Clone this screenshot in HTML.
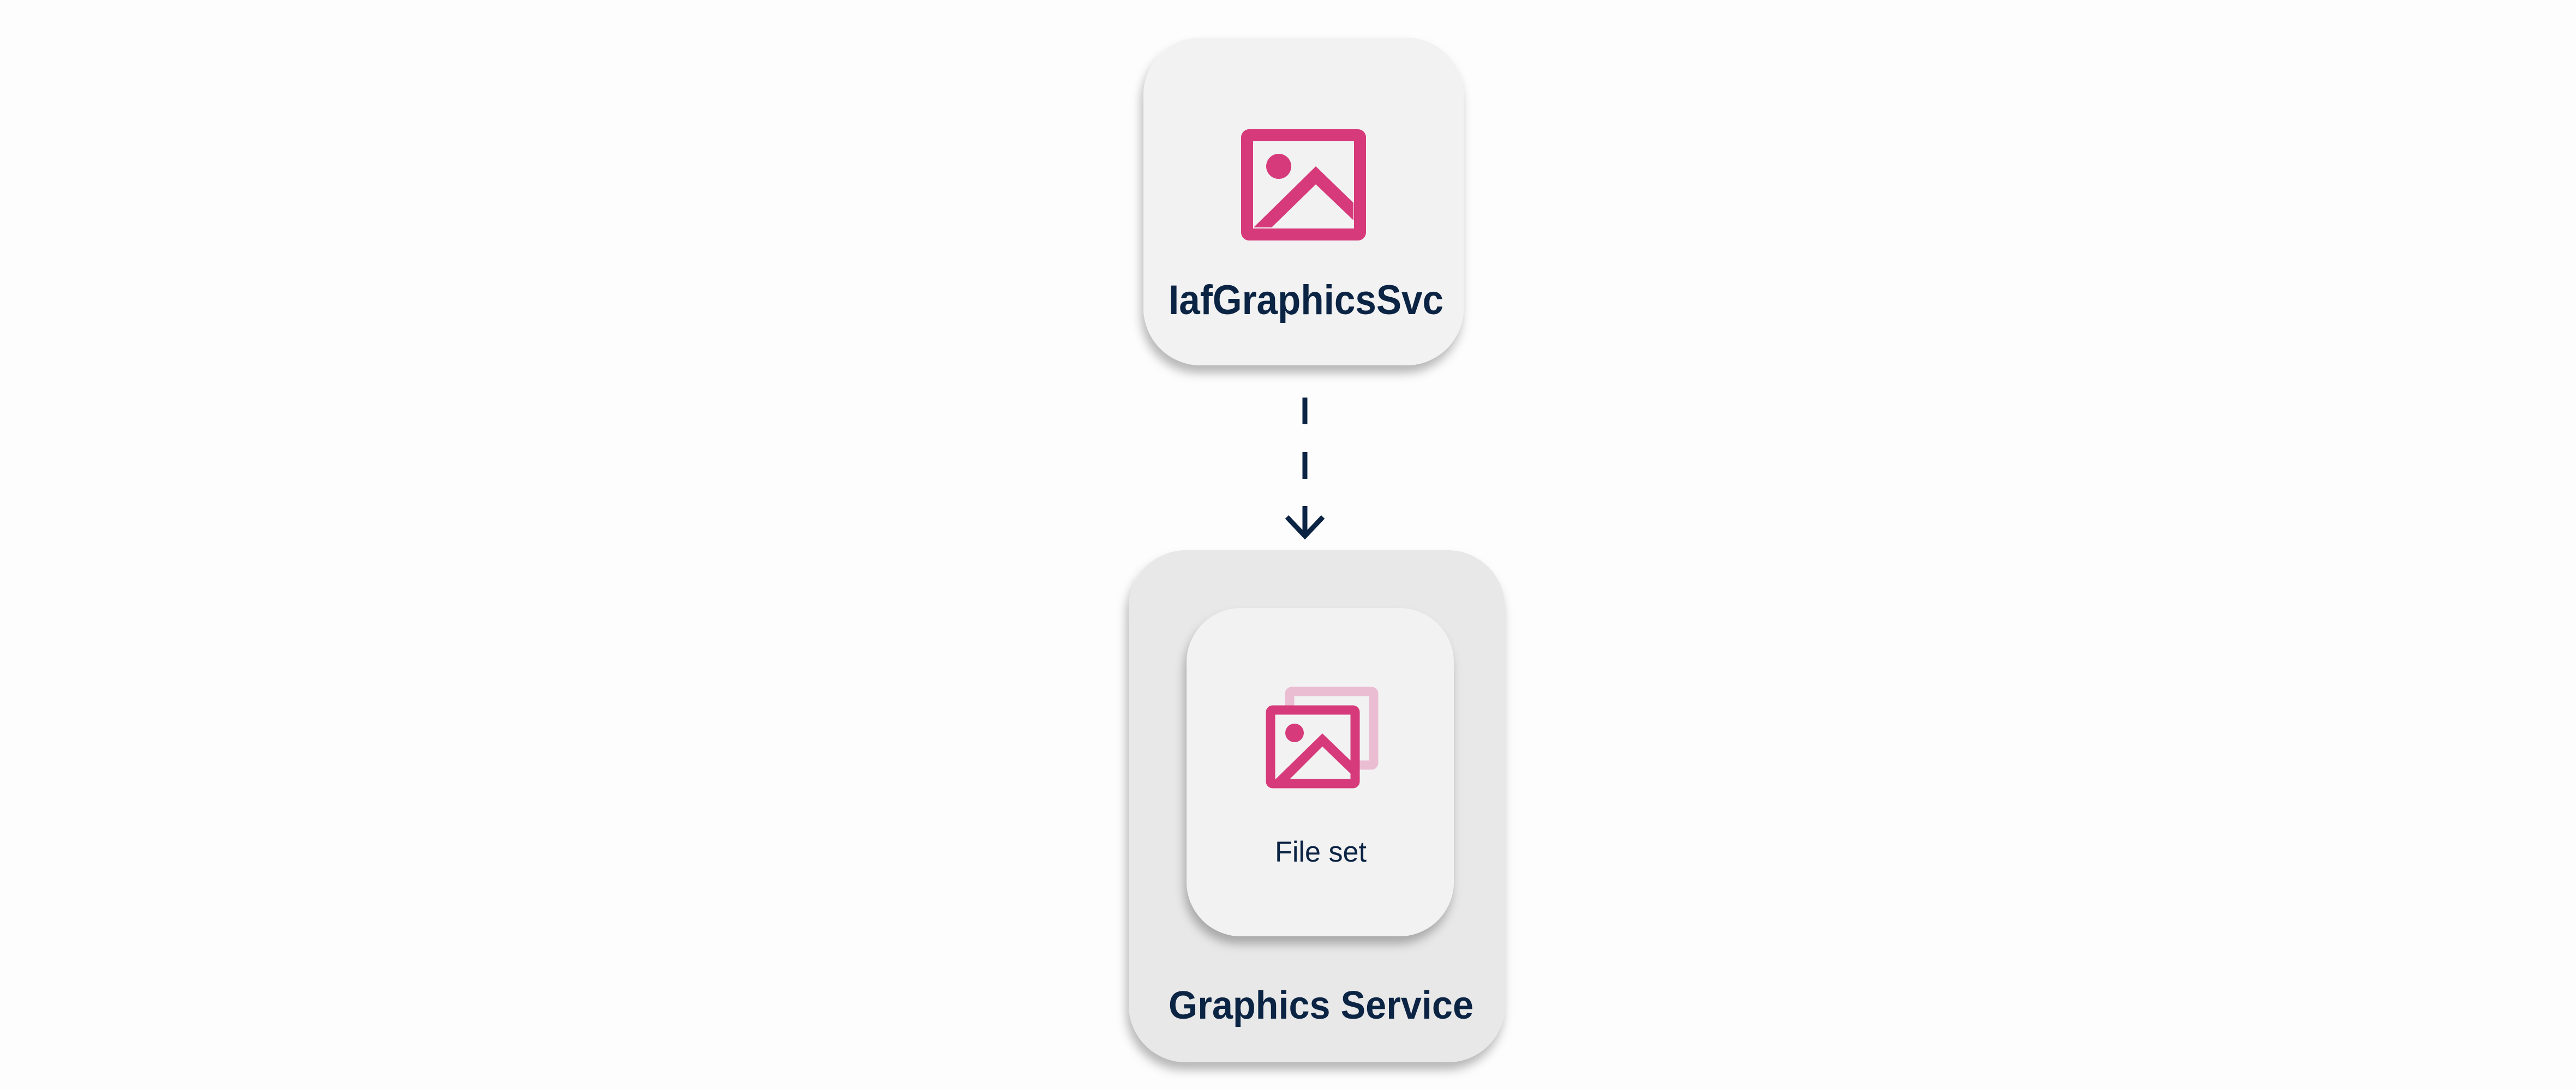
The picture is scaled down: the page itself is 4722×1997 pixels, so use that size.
<!DOCTYPE html>
<html><head><meta charset="utf-8"><style>html,body{margin:0;padding:0;background:#fdfdfd;}svg{display:block;}</style></head>
<body>
<svg width="4722" height="1997" viewBox="0 0 4722 1997" xmlns="http://www.w3.org/2000/svg">
<defs>
<filter id="sh" x="-20%" y="-20%" width="140%" height="140%">
<feDropShadow dx="-4" dy="14" stdDeviation="9" flood-color="#000" flood-opacity="0.28"/>
</filter>
</defs>
<rect x="0" y="0" width="4722" height="1997" fill="#fdfdfd"/>
<!-- top node -->
<rect x="2096" y="69" width="587" height="601" rx="105" ry="105" fill="#f2f2f2" filter="url(#sh)"/>
<rect x="2286" y="248" width="207" height="182" fill="none" stroke="#d63a7a" stroke-width="22" rx="4"/>
<circle cx="2344" cy="305" r="23" fill="#d63a7a"/>
<polygon points="2298,417 2412,305 2481,372 2481,404 2412,338 2331,417" fill="#d63a7a"/>
<text x="2142" y="576" font-family="Liberation Sans, sans-serif" font-weight="bold" font-size="76" fill="#0c2444" textLength="504" lengthAdjust="spacingAndGlyphs">IafGraphicsSvc</text>
<!-- connector -->
<line x1="2392" y1="729" x2="2392" y2="778" stroke="#0c2444" stroke-width="9"/>
<line x1="2392" y1="829" x2="2392" y2="878" stroke="#0c2444" stroke-width="9"/>
<line x1="2392" y1="928" x2="2392" y2="982" stroke="#0c2444" stroke-width="9"/>
<polyline points="2359,948 2392,983 2425,948" fill="none" stroke="#0c2444" stroke-width="9"/>
<!-- outer group -->
<rect x="2069" y="1009" width="690" height="939" rx="105" ry="105" fill="#e8e8e8" filter="url(#sh)"/>
<rect x="2175" y="1115" width="490" height="602" rx="100" ry="100" fill="#f2f2f2" filter="url(#sh)"/>
<rect x="2364" y="1268" width="154" height="135" fill="none" stroke="#ebbdd3" stroke-width="17" rx="4"/>
<rect x="2329" y="1302" width="155" height="135" fill="#f2f2f2" stroke="#d63a7a" stroke-width="17" rx="4"/>
<circle cx="2373" cy="1344" r="17" fill="#d63a7a"/>
<polygon points="2339,1428 2424,1345 2476,1395 2476,1419 2424,1369 2363,1430" fill="#d63a7a"/>
<text x="2337" y="1580" font-family="Liberation Sans, sans-serif" font-size="53" fill="#0c2444" textLength="168" lengthAdjust="spacingAndGlyphs">File set</text>
<text x="2142" y="1868" font-family="Liberation Sans, sans-serif" font-weight="bold" font-size="72" fill="#0c2444" textLength="559" lengthAdjust="spacingAndGlyphs">Graphics Service</text>
</svg>
</body></html>
